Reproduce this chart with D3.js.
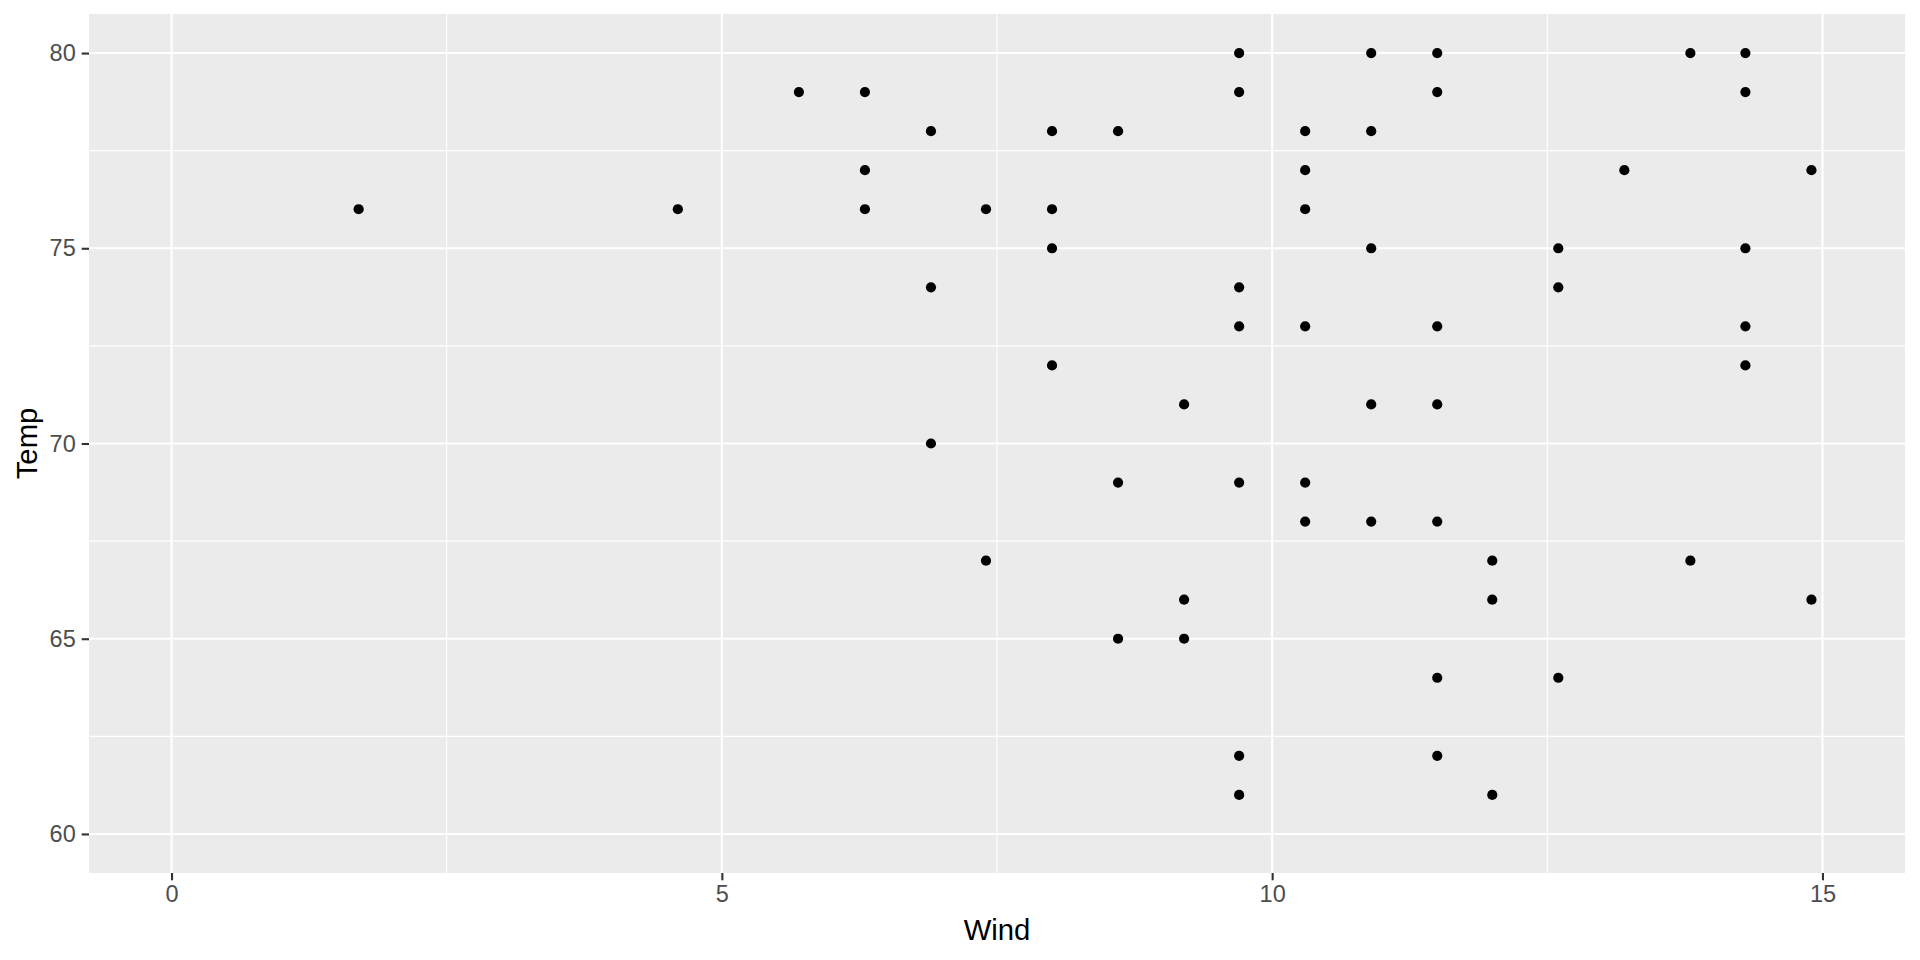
<!DOCTYPE html>
<html>
<head>
<meta charset="utf-8">
<script src="https://cdn.jsdelivr.net/npm/d3@7"></script>
<style>
  html, body { margin: 0; padding: 0; background: #fff; }
  svg { display: block; }
  text { font-family: "Liberation Sans", Arial, sans-serif; }
</style>
</head>
<body>
<svg id="chart" width="1920" height="960"></svg>
<script>
// Data (airquality subset: Wind vs Temp)
const wind = [1.7, 4.6, 5.7,
  6.3, 6.3, 6.3,
  6.9, 6.9, 6.9,
  7.4, 7.4,
  8.0, 8.0, 8.0, 8.0,
  8.6, 8.6, 8.6,
  9.2, 9.2, 9.2,
  9.7, 9.7, 9.7, 9.7, 9.7, 9.7, 9.7,
  10.3, 10.3, 10.3, 10.3, 10.3, 10.3,
  10.9, 10.9, 10.9, 10.9, 10.9,
  11.5, 11.5, 11.5, 11.5, 11.5, 11.5, 11.5,
  12.0, 12.0, 12.0,
  12.6, 12.6, 12.6,
  13.2,
  13.8, 13.8,
  14.3, 14.3, 14.3, 14.3, 14.3,
  14.9, 14.9];
const temp = [76, 76, 79,
  79, 77, 76,
  78, 74, 70,
  76, 67,
  78, 76, 75, 72,
  78, 69, 65,
  71, 66, 65,
  80, 79, 74, 73, 69, 62, 61,
  78, 77, 76, 73, 69, 68,
  80, 78, 75, 71, 68,
  80, 79, 73, 71, 68, 64, 62,
  67, 66, 61,
  75, 74, 64,
  77,
  80, 67,
  80, 79, 75, 73, 72,
  77, 66];
const xLimits = [0, 15];
const yLimits = [60, 80];
const xTicks = [0, 5, 10, 15];
const xMinor = [2.5, 7.5, 12.5];
const yTicks = [60, 65, 70, 75, 80];
const yMinor = [62.5, 67.5, 72.5, 77.5];
const xTitle = "Wind";
const yTitle = "Temp";

const svg = d3.select("#chart");
const panel = { left: 89, right: 1905, top: 14, bottom: 873 };

const xExp = (xLimits[1] - xLimits[0]) * 0.05;
const yExp = (yLimits[1] - yLimits[0]) * 0.05;
const x = d3.scaleLinear().domain([xLimits[0] - xExp, xLimits[1] + xExp]).range([panel.left, panel.right]);
const y = d3.scaleLinear().domain([yLimits[0] - yExp, yLimits[1] + yExp]).range([panel.bottom, panel.top]);

// panel background
svg.append("rect")
  .attr("x", panel.left).attr("y", panel.top)
  .attr("width", panel.right - panel.left).attr("height", panel.bottom - panel.top)
  .attr("fill", "#EBEBEB");

const grid = svg.append("g");
// minor gridlines
grid.selectAll(".xminor").data(xMinor).enter().append("line")
  .attr("x1", d => x(d)).attr("x2", d => x(d))
  .attr("y1", panel.top).attr("y2", panel.bottom)
  .attr("stroke", "#fff").attr("stroke-width", 1.1);
grid.selectAll(".yminor").data(yMinor).enter().append("line")
  .attr("y1", d => y(d)).attr("y2", d => y(d))
  .attr("x1", panel.left).attr("x2", panel.right)
  .attr("stroke", "#fff").attr("stroke-width", 1.1);
// major gridlines
grid.selectAll(".xmajor").data(xTicks).enter().append("line")
  .attr("x1", d => x(d)).attr("x2", d => x(d))
  .attr("y1", panel.top).attr("y2", panel.bottom)
  .attr("stroke", "#fff").attr("stroke-width", 2.1);
grid.selectAll(".ymajor").data(yTicks).enter().append("line")
  .attr("y1", d => y(d)).attr("y2", d => y(d))
  .attr("x1", panel.left).attr("x2", panel.right)
  .attr("stroke", "#fff").attr("stroke-width", 2.1);

// points
const pts = wind.map((w, i) => ({ w, t: temp[i] }));
svg.append("g").selectAll("circle").data(pts).enter().append("circle")
  .attr("cx", d => x(d.w)).attr("cy", d => y(d.t))
  .attr("r", 5.1).attr("fill", "#000");

// axes
const xAxis = d3.axisBottom(x).tickValues(xTicks).tickSize(7.3).tickPadding(5).tickFormat(d3.format("d"));
const gx = svg.append("g").attr("transform", `translate(0,${panel.bottom})`).call(xAxis);
gx.select(".domain").remove();
gx.selectAll(".tick line").attr("stroke", "#333333").attr("stroke-width", 2.1);
gx.selectAll(".tick text").attr("fill", "#4D4D4D").style("font-size", "23.5px")
  .style("font-family", "'Liberation Sans', Arial, sans-serif");

const yAxis = d3.axisLeft(y).tickValues(yTicks).tickSize(7.3).tickPadding(6).tickFormat(d3.format("d"));
const gy = svg.append("g").attr("transform", `translate(${panel.left},0)`).call(yAxis);
gy.select(".domain").remove();
gy.selectAll(".tick line").attr("stroke", "#333333").attr("stroke-width", 2.1);
gy.selectAll(".tick text").attr("fill", "#4D4D4D").style("font-size", "23.5px")
  .style("font-family", "'Liberation Sans', Arial, sans-serif");

// axis titles
svg.append("text")
  .attr("x", (panel.left + panel.right) / 2).attr("y", 940)
  .attr("text-anchor", "middle").attr("fill", "#000")
  .style("font-size", "29.3px").text(xTitle);
svg.append("text")
  .attr("transform", `translate(37,${(panel.top + panel.bottom) / 2}) rotate(-90)`)
  .attr("text-anchor", "middle").attr("fill", "#000")
  .style("font-size", "29.3px").text(yTitle);
</script>
</body>
</html>
